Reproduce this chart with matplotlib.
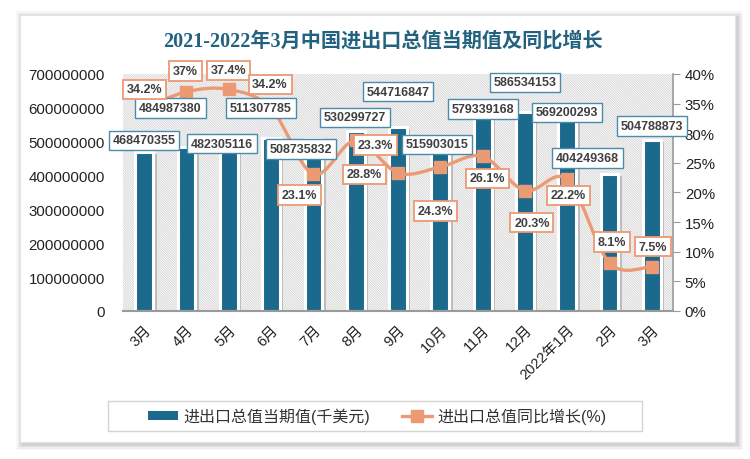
import numpy as np
import matplotlib
matplotlib.use("Agg")
import matplotlib.pyplot as plt
from matplotlib.path import Path
from matplotlib.patches import PathPatch, Rectangle, Patch
from matplotlib.lines import Line2D
import matplotlib.patheffects as pe

plt.rcParams['font.family'] = ['Liberation Sans', 'Noto Sans CJK SC', 'DejaVu Sans']
plt.rcParams['hatch.linewidth'] = 0.7
plt.rcParams['hatch.color'] = '#d4d4d4'

# ---------------------------------------------------------------------------
# Data
# ---------------------------------------------------------------------------
months = ["3月", "4月", "5月", "6月", "7月", "8月", "9月", "10月", "11月",
          "12月", "2022年1月", "2月", "3月"]
total_value = [468470355, 484987380, 482305116, 511307785, 508735832,
               530299727, 544716847, 515903015, 579339168, 586534153,
               569200293, 404249368, 504788873]
yoy_growth = [34.2, 37.0, 37.4, 34.2, 23.1, 28.8, 23.3, 24.3, 26.1, 20.3,
              22.2, 8.1, 7.5]
pct_text = ["34.2%", "37%", "37.4%", "34.2%", "23.1%", "28.8%", "23.3%",
            "24.3%", "26.1%", "20.3%", "22.2%", "8.1%", "7.5%"]

# label offsets in pixels (layout only)
bar_lbl_off = [(0, 12), (-16, 39), (-7, 4), (-10, 30), (-12, -10), (-1, 14),
               (0, 35), (-3, -8), (0, 6), (0, 30), (0, 6), (-22, 16), (0, 14)]
pct_lbl_off = [(0, 19), (-1, 21), (0, 19), (-1, 24), (-14, -21), (9, -34),
               (-23, 28), (-5, -44), (5, -22), (7, -32), (1, -16), (2, 21),
               (1, 20)]

BAR = "#1b6a8d"
LINE = "#ec9a74"
TXT = "#404040"

W, H = 750, 460
fig = plt.figure(figsize=(7.5, 4.6), dpi=100)
fig.patch.set_facecolor("white")


def px(x0, y0, w, h):
    return (x0 / W, 1 - (y0 + h) / H, w / W, h / H)


def card_rect(x0, y0, w, h, **kw):
    r = px(x0, y0, w, h)
    return Rectangle(r[:2], r[2], r[3], transform=fig.transFigure, **kw)


# card with soft shadow
for i, a in enumerate([0.03, 0.04, 0.05, 0.06]):
    g = 6 - i * 1.5
    fig.patches.append(card_rect(20 - g + 2, 16 - g + 2, 715 + 2 * g,
                                 427 + 2 * g, facecolor="black", alpha=a,
                                 edgecolor="none", zorder=-3))
fig.patches.append(card_rect(20, 16, 715, 427, facecolor="white",
                             edgecolor="#e4e4e4", lw=0.8, zorder=-2))

fig.text(383 / W, 1 - 42 / H, "2021-2022年3月中国进出口总值当期值及同比增长",
         ha="center", va="center", fontsize=14.5, fontweight="bold",
         color="#22627f", family=["Liberation Serif", "Noto Sans CJK SC"])

ax = fig.add_axes(px(123, 75, 550, 237))
ax.set_facecolor("none")
x = np.arange(len(months))

ax.add_patch(Rectangle((0, 0), 1, 1, transform=ax.transAxes, facecolor="white",
                       edgecolor="#d8d8d8", hatch="\\" * 14, lw=0, zorder=0))

bars = ax.bar(x, total_value, width=0.42, color=BAR, edgecolor="white",
              linewidth=2.2, zorder=2)
for b in bars:
    b.set_path_effects([pe.SimplePatchShadow(offset=(2.5, -1.5),
                                             shadow_rgbFace="#888888",
                                             alpha=0.45), pe.Normal()])

ax.set_xlim(-0.5, len(months) - 0.5)
ax.set_ylim(0, 700000000)
ax.set_yticks(np.arange(0, 700000001, 100000000))
ax.set_yticklabels([f"{v:d}" for v in range(0, 700000001, 100000000)])
ax.set_xticks(x)
ax.set_xticklabels(months, rotation=45, ha="right", rotation_mode="anchor")
for s in ["top", "left", "right"]:
    ax.spines[s].set_visible(False)
ax.spines["bottom"].set_color("#9a9a9a")
ax.spines["bottom"].set_linewidth(1.5)
ax.tick_params(axis="y", length=0, labelsize=10.8, labelcolor="#222222", pad=13)
ax.tick_params(axis="x", length=0, labelsize=10.5, labelcolor="#222222", pad=8)

ax2 = ax.twinx()
ax2.set_ylim(0, 40)
ax2.set_yticks(np.arange(0, 41, 5))
ax2.set_yticklabels([f"{v}%" for v in range(0, 41, 5)])
for s in ["top", "left", "bottom"]:
    ax2.spines[s].set_visible(False)
ax2.spines["right"].set_color("#9a9a9a")
ax2.spines["right"].set_linewidth(1.2)
ax2.tick_params(axis="y", length=5, color="#9a9a9a", labelsize=10.8,
                labelcolor="#222222")

# smooth line (Bezier through the data points)
pts = np.column_stack([x, yoy_growth]).astype(float)
verts = [pts[0]]
codes = [Path.MOVETO]
n = len(pts)
for i in range(n - 1):
    p0 = pts[i - 1] if i > 0 else pts[i]
    p1, p2 = pts[i], pts[i + 1]
    p3 = pts[i + 2] if i + 2 < n else pts[i + 1]
    verts += [p1 + (p2 - p0) / 6, p2 - (p3 - p1) / 6, p2]
    codes += [Path.CURVE4] * 3
ax2.add_patch(PathPatch(Path(verts, codes), facecolor="none", edgecolor=LINE,
                        lw=2.4, zorder=3))
ax2.plot(x, yoy_growth, ls="none", marker="s", ms=8, color=LINE, zorder=4)

for i, v in enumerate(total_value):
    ax2.annotate(f"{v}", (x[i], v), xycoords=ax.transData,
                 xytext=bar_lbl_off[i], textcoords="offset pixels",
                 ha="center", va="center", fontsize=9, fontweight="bold",
                 color=TXT, zorder=6,
                 bbox=dict(boxstyle="square,pad=0.3", fc="white",
                           ec="#4a8bab", lw=1.0))
for i, v in enumerate(yoy_growth):
    ax2.annotate(pct_text[i], (x[i], v), xytext=pct_lbl_off[i],
                 textcoords="offset pixels", ha="center", va="center",
                 fontsize=9, fontweight="bold", color=TXT, zorder=6,
                 bbox=dict(boxstyle="square,pad=0.3", fc="white",
                           ec=LINE, lw=1.3))

# legend (frame drawn separately to match the wide box)
fig.patches.append(card_rect(108, 402, 534, 30, facecolor="white",
                             edgecolor="#d4d4d4", lw=1.0, zorder=-1))
handles = [Patch(facecolor=BAR, edgecolor="none"),
           Line2D([], [], color=LINE, lw=2.4, marker="s", ms=8)]
leg = fig.legend(handles, ["进出口总值当期值(千美元)", "进出口总值同比增长(%)"],
                 loc="center", bbox_to_anchor=(377 / W, 1 - 417 / H), ncol=2,
                 frameon=False, fontsize=11.5,
                 handlelength=1.9, handleheight=0.45, columnspacing=2.0,
                 handletextpad=0.3)
for t in leg.get_texts():
    t.set_color("#333333")

fig.savefig("out.png", dpi=100)
